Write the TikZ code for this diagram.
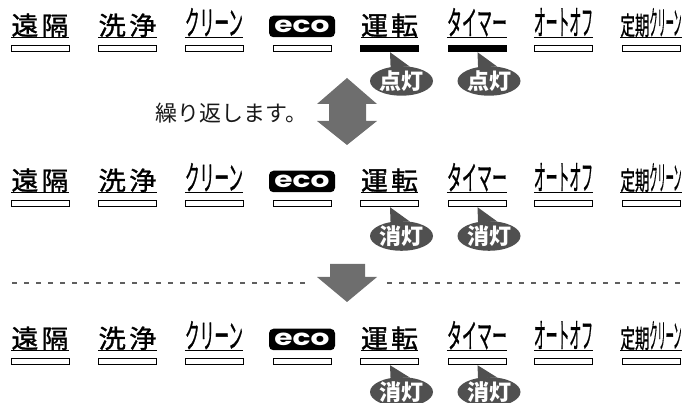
\documentclass[tikz,border=0pt]{standalone}
\usepackage{fontspec}
\usetikzlibrary{shapes.geometric}
\newfontfamily\cjk{Noto Sans CJK JP}
\newfontfamily\cjkm{Noto Sans CJK JP}[FakeBold=1.2]
\newfontfamily\ecofont{Poppins}
\newcommand\kjfit[2]{\resizebox{#1}{21.5pt}{#2}}
\newcommand\ktfit[2]{\resizebox{#1}{27pt}{#2}}
\definecolor{arrowgray}{RGB}{110,110,110}
\definecolor{bubblegray}{RGB}{80,80,80}
\definecolor{dashgray}{RGB}{95,95,95}
\begin{document}
\begin{tikzpicture}[x=1pt,y=-1pt,
  lbl/.style={anchor=base, inner sep=0pt, font=\cjkm\fontsize{25}{25}\selectfont, text=black},
  uline/.style={line width=1.1pt, black},
  barbox/.style={draw=black, line width=0.9pt, fill=white, minimum width=58pt, minimum height=6.5pt, inner sep=0pt},
  barlit/.style={barbox, fill=black},
  ecobox/.style={fill=black, rounded corners=4.5pt, minimum width=66pt, minimum height=21.5pt, inner sep=0pt, text=white},
  bubble/.style={ellipse, fill=bubblegray, minimum width=63pt, minimum height=29pt, inner sep=0pt, text=white, font=\cjk\bfseries\fontsize{22}{22}\selectfont},
  bigarrow/.style={fill=arrowgray},
  sepline/.style={dashgray, line width=1.2pt, dash pattern=on 5pt off 7pt},
  reptext/.style={font=\cjk\fontsize{22}{22}\selectfont, anchor=west, inner sep=0pt, text=black!90}
]
\useasboundingbox (0,0) rectangle (686,403);

\foreach \ro/\lit/\bt/\bo in {0/1/点灯/81,155/0/消灯/81,313/0/消灯/79}{
  % labels
  \foreach \c/\cx/\t in {1/40/{\kjfit{57pt}{遠\hspace{3pt}隔}},2/127.5/{\kjfit{58pt}{洗\hspace{3pt}浄}},3/214/{\ktfit{58pt}{クリーン}},5/389.5/{\kjfit{57pt}{運\hspace{3pt}転}},6/477/{\ktfit{60pt}{タイマー}},7/563.5/{\ktfit{59pt}{オートオフ}},8/651/{\kjfit{29pt}{定期}\ktfit{32pt}{クリーン}}}{
    \node[lbl] (t\ro-\c) at (\cx,\ro+35) {\t};
    \draw[uline] ([yshift=-2.5pt]t\ro-\c.base west) -- ([yshift=-2.5pt]t\ro-\c.base east);
  }
  % eco logo
  \node[ecobox] (t\ro-4) at (302,\ro+26.5) {\resizebox{55pt}{12.5pt}{\ecofont\bfseries eco}};
  % indicator bars
  \foreach \c/\cx in {1/40,2/127.5,3/214,4/302.5,5/389.5,6/477,7/563.5,8/651}{
    \ifnum\lit=1 \ifnum\c>4 \ifnum\c<7 \def\bst{barlit}\else\def\bst{barbox}\fi\else\def\bst{barbox}\fi\else\def\bst{barbox}\fi
    \node[\bst] (b\ro-\c) at (\cx,\ro+48.5) {};
  }
  % bubbles
  \foreach \c/\cx in {5/389.5,6/477}{
    \node[bubble] (u\ro-\c) at (\cx+12,\ro+\bo) {\bt};
    \fill[bubblegray] ([xshift=0.5pt]b\ro-\c.south) -- (u\ro-\c.128) -- (u\ro-\c.60) -- cycle;
  }
}

% repeat arrow and text
\fill[bigarrow] (347,78) -- (377,104) -- (366,104) -- (366,121) -- (377,121) -- (347,145) -- (317,121) -- (329,121) -- (329,104) -- (317,104) -- cycle;
\node[reptext] (rep) at (155,113) {繰り返します。};

% separator and down arrow
\draw[sepline] (12,283) -- (308,283);
\draw[sepline] (387,283) -- (686,283);
\fill[bigarrow] (330,264) -- (365,264) -- (365,277) -- (377,277) -- (347,302) -- (317,277) -- (330,277) -- cycle;
\end{tikzpicture}
\end{document}
